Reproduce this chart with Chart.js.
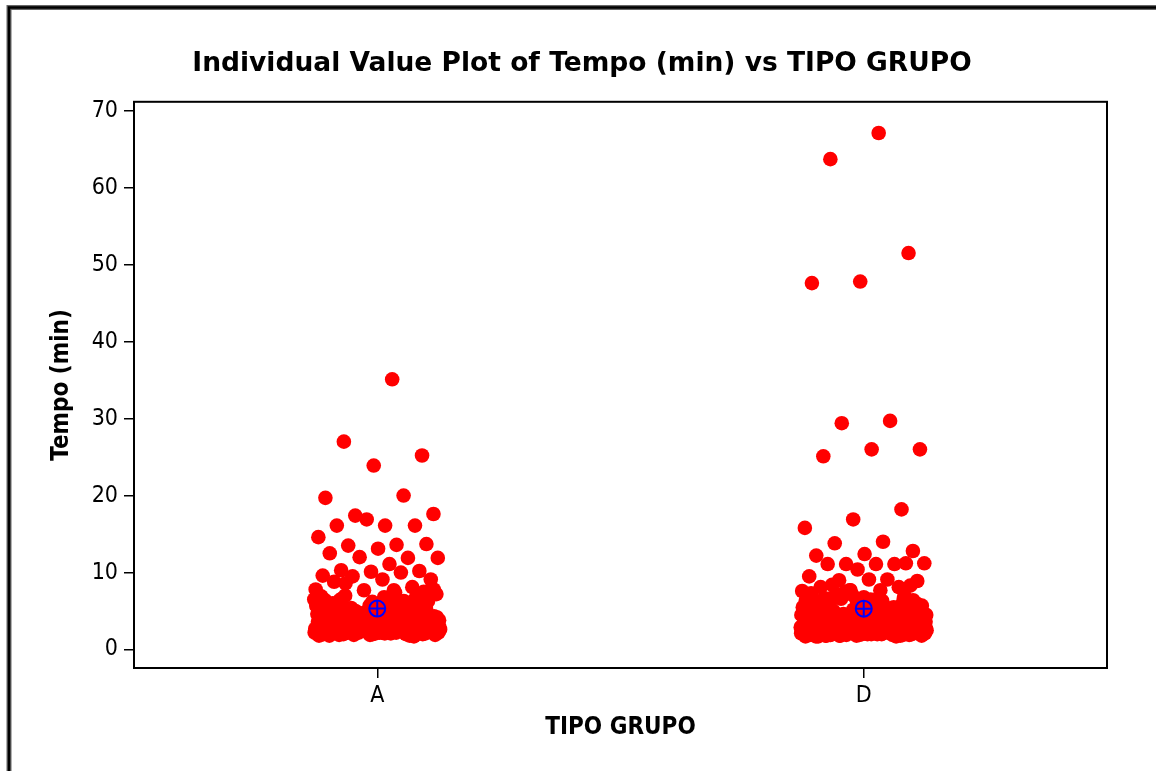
<!DOCTYPE html>
<html>
<head>
<meta charset="utf-8">
<title>Individual Value Plot</title>
<script src="https://cdn.jsdelivr.net/npm/chart.js@4.4.1/dist/chart.umd.min.js"></script>
<style>
  html, body { margin: 0; padding: 0; background: #fff; }
  #wrap { width: 1156px; height: 771px; }
</style>
</head>
<body>
<div id="wrap"><canvas id="grafico" width="1156" height="771"></canvas></div>
<script>
const grupos = ['A', 'D'];
const ticksY = [0, 10, 20, 30, 40, 50, 60, 70];

// Tempo (min) - grupo A
const tempoA = [
  35.1, 27.0, 25.2, 23.9, 19.7, 20.0, 17.4, 17.6, 16.1, 16.1,
  16.1, 16.9, 14.6, 13.6, 13.5, 13.7, 13.1, 12.5, 11.9, 12.0,
  11.9, 11.1, 10.3, 10.2, 10.1, 9.6, 10.0, 9.5, 9.1, 9.1,
  8.8, 8.1, 7.7, 7.8, 7.7, 8.6, 7.5,
  2.1, 3.4, 2.6, 4.8, 1.9, 3.2, 2.4, 5.6, 3.0, 4.9,
  2.8, 2.2, 6.3, 3.7, 2.5, 1.8, 4.1, 2.9, 3.6, 4.4,
  3.1, 2.0, 2.7, 5.2, 3.9, 2.3, 6.8, 2.6, 1.7, 3.5,
  4.6, 2.4, 3.3, 2.1, 5.9, 2.8, 3.0, 2.2, 4.2, 3.7,
  2.5, 7.1, 1.9, 3.2, 2.7, 4.0, 2.3, 3.6, 2.9, 4.5,
  3.8, 2.2, 2.6, 5.4, 2.0, 3.1, 4.7, 2.4, 3.3, 4.3,
  2.3, 3.5, 6.1, 2.8, 1.8, 4.4, 2.6, 3.0, 5.0, 2.1,
  4.1, 2.9, 2.2, 3.6, 6.6, 2.5, 3.2, 2.0, 3.9, 2.7,
  2.6, 4.9, 3.4, 2.1, 2.8, 5.7, 2.4, 3.1, 2.2, 4.6,
  3.3, 2.0, 4.2, 2.7, 3.7, 1.9, 6.9, 2.5, 3.0, 4.0,
  2.4, 3.9, 2.9, 5.1, 2.2, 3.4, 2.6, 4.8, 2.0, 4.3,
  3.0, 6.4, 2.3, 2.7, 3.8, 2.1, 4.5, 3.2, 2.5, 3.6,
  2.2, 2.8, 5.3, 3.1, 1.8, 4.1, 2.6, 3.5, 6.0, 2.4,
  3.7, 2.5, 2.0, 4.7, 3.3, 2.9, 2.2, 5.5, 3.0, 4.0,
  2.7, 3.2, 7.0, 2.1, 2.6, 3.9, 2.3, 4.4, 2.8, 3.4,
  4.9, 2.0, 3.6, 2.4, 5.8, 2.9, 3.1, 2.2, 4.2, 3.0,
  2.5, 3.8, 2.1, 4.6, 2.8, 6.2, 2.3, 3.3, 1.9, 3.5,
  4.3, 5.1, 6.2, 4.8, 5.6, 7.4, 4.5, 6.7, 5.3, 4.1,
  5.9, 4.6, 7.2, 5.0, 6.4, 4.4, 5.7, 6.9, 4.9, 5.4,
  7.6, 4.2, 6.0, 5.2, 4.7, 6.5, 5.8, 4.0, 7.0, 5.5,
  4.3, 6.3, 5.0, 7.8, 4.6, 5.9, 6.6, 4.8, 5.3, 6.1
];

// Tempo (min) - grupo D
const tempoD = [
  67.1, 63.7, 51.5, 47.8, 47.6, 29.7, 29.4, 26.0, 26.0, 25.1,
  18.2, 16.9, 15.8, 14.0, 13.8, 12.8, 12.4, 12.2, 11.1, 11.1,
  11.2, 11.1, 11.1, 11.2, 10.4, 9.5, 9.1, 9.0, 8.9, 9.1,
  8.1, 8.1, 7.7, 7.6, 7.7, 8.4, 8.3,
  2.0, 3.1, 2.5, 4.6, 1.8, 3.0, 2.3, 5.4, 2.8, 4.7,
  2.6, 2.1, 6.0, 3.5, 2.3, 1.7, 3.9, 2.7, 3.4, 4.1,
  2.9, 1.9, 2.5, 5.0, 3.7, 2.2, 6.5, 2.4, 1.8, 3.3,
  4.4, 2.3, 3.1, 2.0, 5.7, 2.6, 2.8, 2.1, 4.0, 3.5,
  2.4, 6.8, 1.8, 3.0, 2.5, 3.8, 2.2, 3.4, 2.7, 4.3,
  3.6, 2.1, 2.4, 5.2, 1.9, 2.9, 4.5, 2.3, 3.1, 4.1,
  2.2, 3.3, 5.9, 2.6, 1.7, 4.2, 2.5, 2.8, 4.8, 2.0,
  3.9, 2.7, 2.1, 3.4, 6.3, 2.4, 3.0, 1.9, 3.7, 2.6,
  2.5, 4.7, 3.2, 2.0, 2.7, 5.5, 2.3, 2.9, 2.1, 4.4,
  3.1, 1.9, 4.0, 2.6, 3.5, 1.8, 6.6, 2.4, 2.8, 3.8,
  2.3, 3.7, 2.8, 4.9, 2.1, 3.2, 2.5, 4.6, 1.9, 4.1,
  2.9, 6.1, 2.2, 2.6, 3.6, 2.0, 4.3, 3.0, 2.4, 3.4,
  2.1, 2.7, 5.1, 2.9, 1.7, 3.9, 2.5, 3.3, 5.8, 2.3,
  3.5, 2.4, 1.9, 4.5, 3.1, 2.8, 2.1, 5.3, 2.9, 3.8,
  2.6, 3.0, 6.7, 2.0, 2.5, 3.7, 2.2, 4.2, 2.7, 3.2,
  4.7, 1.9, 3.4, 2.3, 5.6, 2.8, 2.9, 2.1, 4.0, 2.8,
  2.4, 3.6, 2.0, 4.4, 2.7, 6.0, 2.2, 3.1, 1.8, 3.3,
  3.0, 2.2, 4.8, 2.5, 3.3, 2.0, 5.0, 2.7, 3.6, 2.6,
  2.1, 4.1, 2.6, 3.2, 1.8, 6.9, 2.4, 3.0, 2.3, 4.5,
  2.8, 2.0, 3.5, 5.4, 2.2, 2.9, 4.3, 1.9, 3.7, 2.5,
  3.3, 2.6, 2.1, 4.6, 2.4, 3.8, 2.0, 5.2, 3.1, 2.7,
  2.2, 6.4, 2.8, 2.4, 3.4, 1.9, 3.9, 2.6, 4.2, 2.5,
  4.0, 2.3, 2.9, 1.8, 5.9, 2.5, 3.2, 2.1, 4.4, 3.0,
  2.5, 3.4, 2.0, 4.9, 2.7, 3.1, 2.3, 5.7, 2.2, 3.6,
  3.7, 2.1, 2.6, 3.0, 7.2, 2.4, 2.8, 1.7, 3.9, 2.9,
  4.5, 5.3, 6.1, 4.2, 5.8, 7.3, 4.7, 6.6, 5.0, 4.1,
  6.0, 4.4, 7.1, 5.2, 6.3, 4.9, 5.6, 6.8, 4.3, 5.5,
  7.5, 4.0, 5.9, 5.1, 4.6, 6.4, 5.7, 4.8, 6.9, 5.4,
  4.2, 6.2, 5.0, 7.7, 4.5, 5.8, 6.5, 4.7, 5.2, 6.0,
  4.4, 7.0, 5.3, 4.9, 6.7, 5.6, 4.1, 6.3, 5.1, 4.6
];

const media = arr => arr.reduce((s, v) => s + v, 0) / arr.length;

// espalha os pontos na horizontal em volta da posição do grupo (jitter fixo)
function espalhar(valores, grupo) {
  return valores.map((v, i) => ({
    x: grupo + ((((i + 1) * 0.6180339887) % 1) - 0.5) * 0.26,
    y: v
  }));
}

const medias = [
  { x: 0, y: media(tempoA) },
  { x: 1, y: media(tempoD) }
];

Chart.defaults.font.family = '"DejaVu Sans Condensed", "DejaVu Sans", sans-serif';
Chart.defaults.color = '#000';

const moldura = {
  id: 'moldura',
  beforeDraw(chart) {
    const ctx = chart.ctx;
    ctx.save();
    ctx.fillStyle = '#fff';
    ctx.fillRect(0, 0, chart.width, chart.height);
    // borda externa (só aparecem os lados de cima e da esquerda)
    ctx.strokeStyle = '#666';
    ctx.lineWidth = 5;
    ctx.strokeRect(9, 7.5, 3000, 3000);
    ctx.strokeStyle = '#000';
    ctx.lineWidth = 2.5;
    ctx.strokeRect(9, 7.5, 3000, 3000);
    ctx.restore();
  },
  afterDraw(chart) {
    const a = chart.chartArea;
    const ctx = chart.ctx;
    ctx.save();
    ctx.strokeStyle = '#000';
    ctx.lineWidth = 2;
    ctx.strokeRect(a.left, a.top, a.right - a.left, a.bottom - a.top);
    ctx.restore();
  }
};

const eixoGrid = { drawOnChartArea: false, drawTicks: true, tickLength: 10, color: '#000', lineWidth: 1.5 };
const eixoBorda = { display: true, color: '#000', width: 2 };

new Chart(document.getElementById('grafico').getContext('2d'), {
  type: 'scatter',
  data: {
    datasets: [
      {
        label: 'Média',
        data: medias,
        pointStyle: 'circle',
        pointRadius: 8,
        backgroundColor: 'rgba(0,0,0,0)',
        borderColor: '#0000FF',
        borderWidth: 2
      },
      {
        label: 'Média +',
        data: medias,
        pointStyle: 'cross',
        pointRadius: 8,
        borderColor: '#0000FF',
        borderWidth: 2
      },
      {
        label: 'A',
        data: espalhar(tempoA, 0),
        pointRadius: 7.3,
        backgroundColor: '#FF0000',
        borderWidth: 0
      },
      {
        label: 'D',
        data: espalhar(tempoD, 1),
        pointRadius: 7.3,
        backgroundColor: '#FF0000',
        borderWidth: 0
      }
    ]
  },
  options: {
    responsive: false,
    animation: false,
    events: [],
    layout: { padding: { left: 57, right: 49, top: 0, bottom: 0 } },
    plugins: {
      legend: { display: false },
      tooltip: { enabled: false },
      title: {
        display: true,
        text: 'Individual Value Plot of Tempo (min) vs TIPO GRUPO',
        color: '#000',
        font: { family: '"DejaVu Sans", sans-serif', size: 26.5, weight: 'bold', lineHeight: 1.2 },
        padding: { top: 48, bottom: 22 }
      }
    },
    scales: {
      x: {
        type: 'linear',
        min: -0.5,
        max: 1.5,
        afterBuildTicks: s => { s.ticks = grupos.map((g, i) => ({ value: i })); },
        afterFit: s => { s.height = 103; },
        ticks: { callback: v => grupos[v], padding: 4, font: { size: 23 }, maxRotation: 0, autoSkip: false },
        grid: eixoGrid,
        border: eixoBorda,
        title: {
          display: true,
          text: 'TIPO GRUPO',
          font: { size: 24, weight: 'bold' },
          padding: { top: 0, bottom: 29 }
        }
      },
      y: {
        min: -2.4,
        max: 71.15,
        afterBuildTicks: s => { s.ticks = ticksY.map(v => ({ value: v })); },
        afterFit: s => { s.width = 77; },
        ticks: { padding: 6, font: { size: 23 } },
        grid: eixoGrid,
        border: eixoBorda,
        title: {
          display: true,
          text: 'Tempo (min)',
          font: { size: 24, weight: 'bold' },
          padding: { top: -10, bottom: 0 }
        }
      }
    }
  },
  plugins: [moldura]
});
</script>
</body>
</html>
